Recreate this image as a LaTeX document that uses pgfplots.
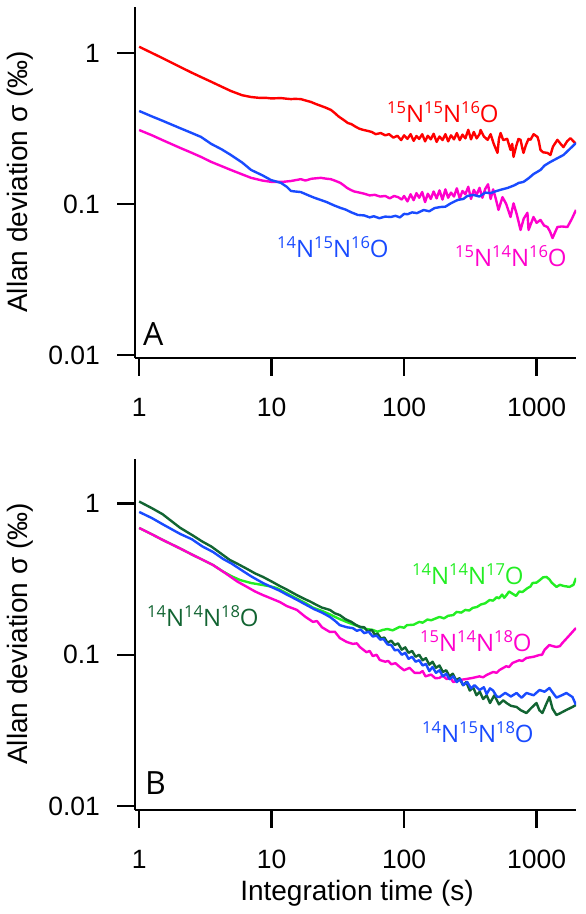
\documentclass[border=0pt]{standalone}
\usepackage{pgfplots}
\pgfplotsset{compat=1.18}
\usepackage{fontspec}
\setmainfont{Liberation Sans}
\newfontfamily\labfont{Open Sans}
\definecolor{cred}{RGB}{255,0,0}
\definecolor{cblue}{RGB}{25,75,255}
\definecolor{cmag}{RGB}{255,0,204}
\definecolor{clgreen}{RGB}{35,238,35}
\definecolor{cdgreen}{RGB}{18,100,50}
\newcommand\iso[2]{\raisebox{9pt}{\fontsize{16.5}{16.5}\selectfont #1}#2}
\newcommand\curvelab[2]{\node[anchor=base west, inner sep=0pt, text=#1, font=\labfont\fontsize{24}{27}\selectfont] at #2}
\begin{document}
\begin{tikzpicture}
\useasboundingbox (0,0) rectangle (586pt,914pt);
% ---------------- Panel A ----------------
\begin{axis}[at={(135pt,556pt)}, anchor=south west,
  scale only axis, width=441pt, height=351pt,
  xmode=log, ymode=log, xmin=0.93, xmax=1985, ymin=0.00955, ymax=2.017,
  axis x line*=bottom, axis y line*=left,
  axis line style={line width=2.6pt},
  tick align=outside, major tick length=18pt,
  tick style={black, line width=2.4pt},
  xminorticks=false, yminorticks=false,
  xtick={1,10,100,1000}, xticklabels={1,10,100,1000},
  ytick={0.01,0.1,1}, yticklabels={0.01,0.1,1},
  ticklabel style={font=\fontsize{26.5}{30}\selectfont, inner sep=0pt},
  xticklabel style={anchor=north, yshift=-22pt},
  yticklabel style={anchor=east, xshift=-17pt}]
\addplot[cred, line width=2.4pt, line join=round] coordinates {
(1,1.10)(1.25,1.0)(1.5,0.925)(2,0.815)(2.5,0.74)(2.93,0.693)(3.5,0.645)(4,0.61)(4.93,0.56)(6,0.525)(7,0.511)(8,0.505)(9,0.505)(10,0.50)(11.7,0.503)(13,0.498)(14,0.495)(15,0.497)(16.6,0.495)(18,0.485)(19.8,0.474)(21.5,0.46)(23,0.45)(25.5,0.435)(28,0.42)(30,0.40)(32,0.38)(35,0.36)(37.6,0.344)(40,0.338)(43,0.325)(46,0.315)(49.6,0.309)(53,0.305)(57,0.30)(61,0.29)(66.6,0.295)(72,0.285)(77,0.29)(83,0.275)(89,0.283)(95,0.265)(100,0.285)(106,0.27)(112,0.29)(118,0.262)(124,0.282)(130,0.27)(137,0.29)(144,0.26)(151,0.283)(159,0.268)(167,0.292)(176,0.258)(185,0.28)(195,0.265)(205,0.29)(215,0.26)(226,0.285)(238,0.268)(250,0.295)(263,0.265)(276,0.288)(290,0.272)(305,0.31)(320,0.268)(336,0.3)(353,0.272)(371,0.29)(378,0.309)(400,0.28)(427,0.266)(450,0.29)(475,0.25)(507,0.218)(520,0.27)(535,0.295)(560,0.265)(600,0.27)(636,0.228)(655,0.25)(670,0.205)(700,0.24)(730,0.27)(757,0.266)(780,0.235)(797,0.218)(830,0.245)(870,0.27)(899,0.266)(950,0.29)(1016,0.278)(1040,0.26)(1070,0.228)(1120,0.22)(1208,0.218)(1273,0.211)(1330,0.24)(1437,0.266)(1520,0.25)(1595,0.238)(1700,0.26)(1800,0.273)(1900,0.26)(1985,0.25)
};
\addplot[cmag, line width=2.4pt, line join=round] coordinates {
(1,0.309)(1.25,0.285)(1.5,0.265)(2,0.237)(2.5,0.218)(2.93,0.205)(3.5,0.19)(4.93,0.168)(6,0.157)(7,0.149)(8.5,0.143)(10,0.14)(12,0.14)(14,0.142)(16.6,0.146)(18,0.143)(20,0.147)(23.5,0.149)(26,0.147)(28,0.146)(30.5,0.142)(33,0.138)(35,0.133)(37,0.128)(39.5,0.124)(42,0.121)(46,0.119)(50,0.117)(55,0.114)(60,0.115)(66,0.112)(72,0.113)(78,0.109)(84,0.113)(90,0.111)(96,0.107)(100,0.113)(106,0.104)(112,0.116)(118,0.106)(124,0.118)(130,0.11)(137,0.12)(144,0.103)(151,0.117)(159,0.108)(167,0.121)(176,0.109)(185,0.123)(195,0.107)(205,0.125)(215,0.11)(226,0.119)(238,0.112)(250,0.127)(263,0.109)(276,0.122)(290,0.116)(305,0.13)(320,0.108)(336,0.124)(353,0.115)(371,0.128)(390,0.11)(410,0.126)(430,0.135)(450,0.108)(470,0.125)(490,0.11)(516,0.0914)(553,0.111)(590,0.1)(636,0.082)(670,0.101)(710,0.085)(757,0.0673)(800,0.08)(853,0.0874)(870,0.0673)(948,0.082)(1000,0.075)(1070,0.0784)(1140,0.072)(1208,0.0704)(1260,0.066)(1320,0.0595)(1380,0.065)(1437,0.0704)(1550,0.071)(1710,0.0704)(1850,0.08)(1985,0.0914)
};
\addplot[cblue, line width=2.4pt, line join=round] coordinates {
(1,0.413)(1.25,0.38)(1.5,0.356)(2,0.32)(2.5,0.295)(2.93,0.278)(3.5,0.25)(4.2,0.23)(4.93,0.211)(6,0.188)(7,0.168)(8.5,0.155)(9.9,0.144)(11.75,0.138)(13,0.13)(14,0.122)(15,0.121)(16.6,0.12)(19,0.114)(21,0.11)(23.5,0.1063)(26,0.103)(29.5,0.098)(33.3,0.094)(36,0.092)(40,0.088)(44.7,0.0846)(50,0.084)(55,0.0815)(59,0.083)(65,0.0805)(72,0.0825)(79.3,0.082)(86,0.0835)(93,0.0815)(100,0.086)(106,0.0855)(115,0.088)(125,0.087)(140.5,0.0912)(155,0.0895)(170,0.094)(188.6,0.0955)(205,0.096)(225,0.101)(253.5,0.1063)(280,0.108)(300,0.113)(334,0.1148)(370,0.112)(410,0.119)(449,0.118)(500,0.122)(550,0.125)(604,0.1277)(680,0.133)(735,0.138)(796,0.140)(870,0.148)(950,0.158)(1070,0.168)(1150,0.18)(1273,0.19)(1420,0.2)(1595,0.211)(1750,0.228)(1985,0.2535)
};
\end{axis}
% ---------------- Panel B ----------------
\begin{axis}[at={(135pt,104pt)}, anchor=south west,
  scale only axis, width=441pt, height=351pt,
  xmode=log, ymode=log, xmin=0.93, xmax=1985, ymin=0.00942, ymax=1.968,
  axis x line*=bottom, axis y line*=left,
  axis line style={line width=2.6pt},
  tick align=outside, major tick length=18pt,
  tick style={black, line width=2.4pt},
  xminorticks=false, yminorticks=false,
  xtick={1,10,100,1000}, xticklabels={1,10,100,1000},
  ytick={0.01,0.1,1}, yticklabels={0.01,0.1,1},
  ticklabel style={font=\fontsize{26.5}{30}\selectfont, inner sep=0pt},
  xticklabel style={anchor=north, yshift=-22pt},
  yticklabel style={anchor=east, xshift=-17pt}]
\addplot[clgreen, line width=2.4pt, line join=round] coordinates {
(1,0.689)(1.25,0.625)(1.5,0.575)(2.04,0.504)(2.5,0.46)(3,0.425)(3.61,0.392)(4.3,0.355)(5,0.33)(5.77,0.312)(7,0.298)(8.6,0.289)(10,0.282)(10.96,0.276)(13,0.255)(15.5,0.235)(18,0.22)(20.5,0.205)(24,0.195)(27.5,0.185)(32.7,0.172)(38,0.163)(46.3,0.153)(52,0.148)(58,0.146)(63,0.142)(69,0.146)(75,0.148)(82,0.145)(92.7,0.153)(100,0.151)(105,0.157)(118,0.158)(130,0.165)(138,0.163)(150,0.171)(160,0.169)(185,0.178)(200,0.174)(215,0.181)(235,0.183)(249,0.192)(270,0.19)(290,0.198)(310,0.196)(329,0.204)(355,0.207)(380,0.215)(410,0.219)(442,0.23)(470,0.228)(500,0.24)(520,0.236)(550,0.25)(570,0.238)(593,0.248)(620,0.262)(650,0.255)(700,0.245)(740,0.262)(783,0.26)(850,0.275)(900,0.283)(932,0.298)(1000,0.3)(1050,0.31)(1120,0.325)(1188,0.327)(1250,0.315)(1300,0.3)(1413,0.281)(1500,0.29)(1600,0.285)(1771,0.281)(1900,0.29)(1985,0.322)
};
\addplot[cmag, line width=2.4pt, line join=round] coordinates {
(1,0.689)(1.25,0.625)(1.5,0.575)(2.04,0.504)(2.5,0.46)(3,0.425)(3.61,0.392)(4.5,0.345)(5.5,0.305)(6.51,0.281)(7.5,0.262)(8.6,0.248)(10,0.235)(11.55,0.223)(13,0.21)(15.5,0.198)(18,0.178)(20.5,0.165)(22,0.167)(24,0.152)(27.5,0.1415)(30,0.142)(32.7,0.129)(36.9,0.1215)(41,0.118)(44,0.119)(46.3,0.1126)(52,0.104)(55,0.106)(58,0.098)(62,0.1)(65.5,0.0924)(72,0.09)(76,0.091)(80,0.0865)(86,0.088)(92.7,0.0831)(100,0.079)(110,0.082)(120,0.076)(131,0.0758)(138,0.078)(145,0.072)(160,0.074)(172,0.07)(185,0.0703)(195,0.073)(210,0.069)(222,0.071)(235,0.066)(262,0.0681)(290,0.069)(329,0.0703)(370,0.072)(395,0.071)(419,0.0735)(470,0.077)(500,0.076)(525,0.0793)(590,0.084)(620,0.083)(658,0.0883)(740,0.092)(780,0.091)(839,0.0953)(950,0.097)(1052,0.0997)(1100,0.1)(1150,0.108)(1250,0.116)(1330,0.114)(1413,0.1126)(1500,0.114)(1567,0.1197)(1750,0.133)(1985,0.1504)
};
\addplot[cdgreen, line width=2.4pt, line join=round] coordinates {
(1,1.03)(1.25,0.93)(1.5,0.85)(2.04,0.69)(2.5,0.62)(3,0.56)(3.5,0.52)(4.84,0.423)(5.5,0.4)(6.5,0.37)(7.5,0.345)(8.6,0.327)(10,0.305)(11.5,0.285)(13,0.27)(15.5,0.248)(17.5,0.235)(19.5,0.225)(21.5,0.215)(24,0.205)(27.5,0.198)(30,0.188)(32.7,0.183)(36,0.172)(40,0.165)(43,0.158)(46.3,0.153)(50,0.152)(53,0.143)(57,0.146)(60,0.136)(63,0.138)(67,0.128)(71,0.13)(75,0.12)(80,0.124)(85,0.116)(90,0.119)(96,0.108)(102,0.112)(108,0.103)(115,0.106)(122,0.097)(130,0.1)(138,0.092)(146,0.095)(155,0.086)(164,0.09)(174,0.082)(185,0.085)(196,0.077)(208,0.079)(220,0.072)(233,0.075)(247,0.068)(262,0.07)(278,0.063)(295,0.066)(313,0.058)(332,0.061)(352,0.054)(373,0.057)(395,0.051)(420,0.054)(445,0.048)(480,0.054)(520,0.047)(560,0.05)(593,0.048)(640,0.046)(706,0.0452)(760,0.043)(839,0.0412)(900,0.044)(998,0.048)(1050,0.043)(1107,0.0412)(1180,0.047)(1250,0.0526)(1320,0.044)(1413,0.040)(1500,0.041)(1679,0.0432)(1850,0.045)(1985,0.0466)
};
\addplot[cblue, line width=2.4pt, line join=round] coordinates {
(1,0.879)(1.25,0.8)(1.5,0.73)(2.04,0.629)(2.5,0.58)(3,0.52)(3.61,0.478)(4.3,0.43)(5,0.4)(6,0.36)(7,0.33)(8.6,0.298)(10,0.28)(11.5,0.265)(13,0.25)(15.5,0.231)(18,0.215)(21,0.2)(24,0.19)(27.5,0.178)(30,0.168)(32.7,0.157)(37,0.152)(41,0.15)(44,0.144)(47,0.147)(50,0.139)(54,0.142)(58,0.132)(62,0.134)(66,0.126)(70,0.127)(75,0.117)(80,0.116)(85,0.107)(90,0.108)(96,0.1)(102,0.103)(108,0.094)(115,0.097)(122,0.09)(130,0.092)(138,0.085)(146,0.087)(155,0.078)(164,0.083)(174,0.076)(185,0.079)(196,0.072)(208,0.075)(220,0.069)(235,0.072)(250,0.066)(265,0.069)(280,0.063)(300,0.066)(320,0.06)(340,0.063)(371,0.0585)(400,0.061)(420,0.055)(445,0.06)(470,0.058)(500,0.053)(525,0.0526)(580,0.056)(640,0.053)(706,0.0559)(770,0.052)(839,0.0559)(950,0.054)(1052,0.0585)(1150,0.057)(1250,0.0603)(1330,0.056)(1413,0.0521)(1550,0.054)(1679,0.0559)(1866,0.0526)(1985,0.0466)
};
\end{axis}
% ---------------- labels ----------------
\node[rotate=90, font=\fontsize{28}{32}\selectfont] at (20pt,732pt) {Allan deviation σ (‰)};
\node[rotate=90, font=\fontsize{28}{32}\selectfont] at (20pt,280pt) {Allan deviation σ (‰)};
\node[anchor=base, inner sep=0pt, font=\fontsize{28}{32}\selectfont] at (357pt,13pt) {Integration time (s)};
\node[anchor=base west, inner sep=0pt, font=\labfont\fontsize{32}{36}\selectfont] at (143pt,568pt) {A};
\node[anchor=base west, inner sep=0pt, font=\labfont\fontsize{32}{36}\selectfont] at (145pt,119pt) {B};
\curvelab{cred}{(387pt,791pt)} {\iso{15}{N}\iso{15}{N}\iso{16}{O}};
\curvelab{cblue}{(277pt,656pt)} {\iso{14}{N}\iso{15}{N}\iso{16}{O}};
\curvelab{cmag}{(455pt,647pt)} {\iso{15}{N}\iso{14}{N}\iso{16}{O}};
\curvelab{cdgreen}{(147pt,287pt)} {\iso{14}{N}\iso{14}{N}\iso{18}{O}};
\curvelab{clgreen}{(412pt,329pt)} {\iso{14}{N}\iso{14}{N}\iso{17}{O}};
\curvelab{cmag}{(420pt,262pt)} {\iso{15}{N}\iso{14}{N}\iso{18}{O}};
\curvelab{cblue}{(422pt,171pt)} {\iso{14}{N}\iso{15}{N}\iso{18}{O}};
\end{tikzpicture}
\end{document}
